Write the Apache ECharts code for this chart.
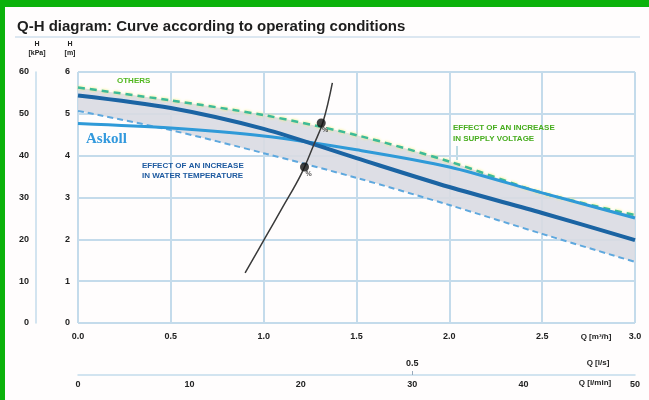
<!DOCTYPE html>
<html>
<head>
<meta charset="utf-8">
<script src="https://cdn.jsdelivr.net/npm/echarts@6/dist/echarts.min.js"></script>
<style>
html,body{margin:0;padding:0;background:#fff;}
#frame{position:absolute;left:0;top:0;width:649px;height:400px;background:#0bb20b;}
#chart{position:absolute;left:5px;top:7px;width:644px;height:393px;background:#fffdfd;}
</style>
</head>
<body>
<div id="frame"></div>
<div id="chart"></div>
<script>
// ---- data ----
const Q = [0, 0.5, 1.0, 1.5, 2.0, 2.5, 3.0];              // m3/h
const H_others = [5.63, 5.32, 4.97, 4.49, 3.86, 3.11, 2.58]; // green dashed (upper band)
const H_main   = [5.44, 5.14, 4.64, 3.94, 3.25, 2.63, 1.98]; // dark blue curve
const H_askoll = [4.77, 4.66, 4.47, 4.14, 3.73, 3.11, 2.51]; // light blue Askoll curve
const H_low    = [5.07, 4.61, 4.06, 3.47, 2.82, 2.13, 1.46]; // lower dashed (band)
const sysQ = [0.90, 1.01, 1.10, 1.20, 1.27, 1.32, 1.37];     // system curve
const sysH = [1.20, 2.05, 2.75, 3.54, 4.26, 4.81, 5.74];
const markQ = [1.22, 1.31];
const markH = [3.73, 4.78];
const markText = ['%', '%'];
const lsTicks = [0.5];

const title = 'Q-H diagram: Curve according to operating conditions';

const pairs = (xs, ys) => xs.map((x, i) => [x, ys[i]]);
// for stacking on the H dimension: [H, Q] with encode {x:1, y:0}
const bandBase = Q.map((q, i) => [H_low[i], q]);
const bandDiff = Q.map((q, i) => [+(H_others[i] - H_low[i]).toFixed(3), q]);

const chart = echarts.init(document.getElementById('chart'), null, {renderer: 'canvas'});
const grid = '#c4dbeb';
const lbl = {fontFamily: 'Liberation Sans', fontWeight: 'bold', fontSize: 9, color: '#222'};
const ox = 5, oy = 7; // frame offset

chart.setOption({
  animation: false,
  backgroundColor: 'transparent',
  grid: {left: 78 - ox, right: 649 - 635, top: 72 - oy, bottom: 400 - 323, containLabel: false},
  xAxis: [
    {type: 'value', min: 0, max: 3, interval: 0.5, position: 'bottom',
     axisLine: {show: false}, axisTick: {show: false},
     axisLabel: Object.assign({margin: 9, formatter: v => v.toFixed(1)}, lbl),
     splitLine: {show: true, lineStyle: {color: grid, width: 2}}},
    {type: 'value', min: 0, max: 50, interval: 10, position: 'bottom', offset: 52,
     axisLine: {show: true, onZero: false, lineStyle: {color: grid, width: 1.5}}, axisTick: {show: false},
     axisLabel: Object.assign({margin: 5}, lbl), splitLine: {show: false}},
    {type: 'value', min: 0, max: 50 / 60, interval: 0.5, position: 'bottom', offset: 52,
     axisLine: {show: false, onZero: false},
     axisTick: {show: true, inside: true, length: 4, customValues: lsTicks, lineStyle: {color: '#9ab'}},
     axisLabel: Object.assign({inside: true, margin: 7, showMaxLabel: false, customValues: lsTicks,
       formatter: v => (v === 0 ? '' : v.toFixed(1))}, lbl),
     splitLine: {show: false}}
  ],
  yAxis: [
    {type: 'value', min: 0, max: 6, interval: 1, position: 'left',
     axisLine: {show: false}, axisTick: {show: false},
     axisLabel: Object.assign({margin: 8}, lbl),
     splitLine: {show: true, lineStyle: {color: grid, width: 2}}},
    {type: 'value', min: 0, max: 60, interval: 10, position: 'left', offset: 42,
     axisLine: {show: true, onZero: false, lineStyle: {color: grid, width: 1.5}}, axisTick: {show: false},
     axisLabel: Object.assign({margin: 7}, lbl), splitLine: {show: false}}
  ],
  series: [
    {type: 'line', name: 'base', stack: 'band', data: bandBase, encode: {x: 1, y: 0}, smooth: 0.3,
     symbol: 'none', lineStyle: {width: 0}, silent: true, z: 1},
    {type: 'line', name: 'band', stack: 'band', data: bandDiff, encode: {x: 1, y: 0}, smooth: 0.3,
     symbol: 'none', lineStyle: {width: 0}, areaStyle: {color: '#d9dae2', opacity: 0.9}, silent: true, z: 1},
    {type: 'line', name: 'low', data: pairs(Q, H_low), smooth: 0.3, symbol: 'none',
     lineStyle: {color: '#5ea8de', width: 2, type: [6, 4]}, z: 3},
    {type: 'line', name: 'others', data: pairs(Q, H_others), smooth: 0.3, symbol: 'none',
     lineStyle: {color: '#3dbb98', width: 2.5, type: [7, 5], shadowColor: '#f0ee70', shadowBlur: 3}, z: 3},
    {type: 'line', name: 'askoll', data: pairs(Q, H_askoll), smooth: 0.3, symbol: 'none',
     lineStyle: {color: '#2f9ad8', width: 3}, z: 4},
    {type: 'line', name: 'main', data: pairs(Q, H_main), smooth: 0.3, symbol: 'none',
     lineStyle: {color: '#1b64a3', width: 4}, z: 5},
    {type: 'line', name: 'system', data: pairs(sysQ, sysH), smooth: 0.4, symbol: 'none',
     lineStyle: {color: '#3a3a3a', width: 1.5}, z: 6},
    {type: 'scatter', name: 'marks', data: pairs(markQ, markH), symbol: 'circle', symbolSize: 9,
     itemStyle: {color: '#111'}, z: 7,
     label: {show: true, position: 'bottom', offset: [4, -2], distance: 1,
       formatter: p => markText[p.dataIndex], fontSize: 7, fontWeight: 'bold', color: '#222'}}
  ],
  graphic: [
    {type: 'text', left: 17 - ox, top: 19 - oy,
     style: {text: title, font: 'bold 15px "Liberation Sans"', fill: '#1e1e1e'}},
    {type: 'line', shape: {x1: 15 - ox, y1: 37 - oy, x2: 640 - ox, y2: 37 - oy},
     style: {stroke: '#b9d2e5', lineWidth: 1.2}},
    {type: 'text', x: 37 - ox, y: 40 - oy,
     style: {text: 'H\n[kPa]', font: 'bold 7px "Liberation Sans"', fill: '#222', textAlign: 'center', lineHeight: 9}},
    {type: 'text', x: 70 - ox, y: 40 - oy,
     style: {text: 'H\n[m]', font: 'bold 7px "Liberation Sans"', fill: '#222', textAlign: 'center', lineHeight: 9}},
    {type: 'text', x: 596 - ox, y: 333 - oy,
     style: {text: 'Q [m³/h]', font: 'bold 8px "Liberation Sans"', fill: '#222', textAlign: 'center'}},
    {type: 'text', x: 598 - ox, y: 359 - oy,
     style: {text: 'Q [l/s]', font: 'bold 8px "Liberation Sans"', fill: '#222', textAlign: 'center'}},
    {type: 'text', x: 595 - ox, y: 379 - oy,
     style: {text: 'Q [l/min]', font: 'bold 8px "Liberation Sans"', fill: '#222', textAlign: 'center'}},
    {type: 'text', x: 117 - ox, y: 77 - oy, z: 10,
     style: {text: 'OTHERS', font: 'bold 8px "Liberation Sans"', fill: '#52b820'}},
    {type: 'text', x: 86 - ox, y: 132 - oy, z: 10,
     style: {text: 'Askoll', font: 'bold 15px "Liberation Serif"', fill: '#3399dd'}},
    {type: 'text', x: 142 - ox, y: 161 - oy, z: 10,
     style: {text: 'EFFECT OF AN INCREASE\nIN WATER TEMPERATURE', font: 'bold 8px "Liberation Sans"', fill: '#1e5aa0', lineHeight: 10}},
    {type: 'text', x: 453 - ox, y: 122 - oy, z: 10,
     style: {text: 'EFFECT OF AN INCREASE\nIN SUPPLY VOLTAGE', font: 'bold 8px "Liberation Sans"', fill: '#47ad1e', lineHeight: 11}},
    {type: 'line', shape: {x1: 457 - ox, y1: 146 - oy, x2: 457 - ox, y2: 160 - oy},
     style: {stroke: '#7ab8c8', lineWidth: 1}}
  ]
});
</script>
</body>
</html>
